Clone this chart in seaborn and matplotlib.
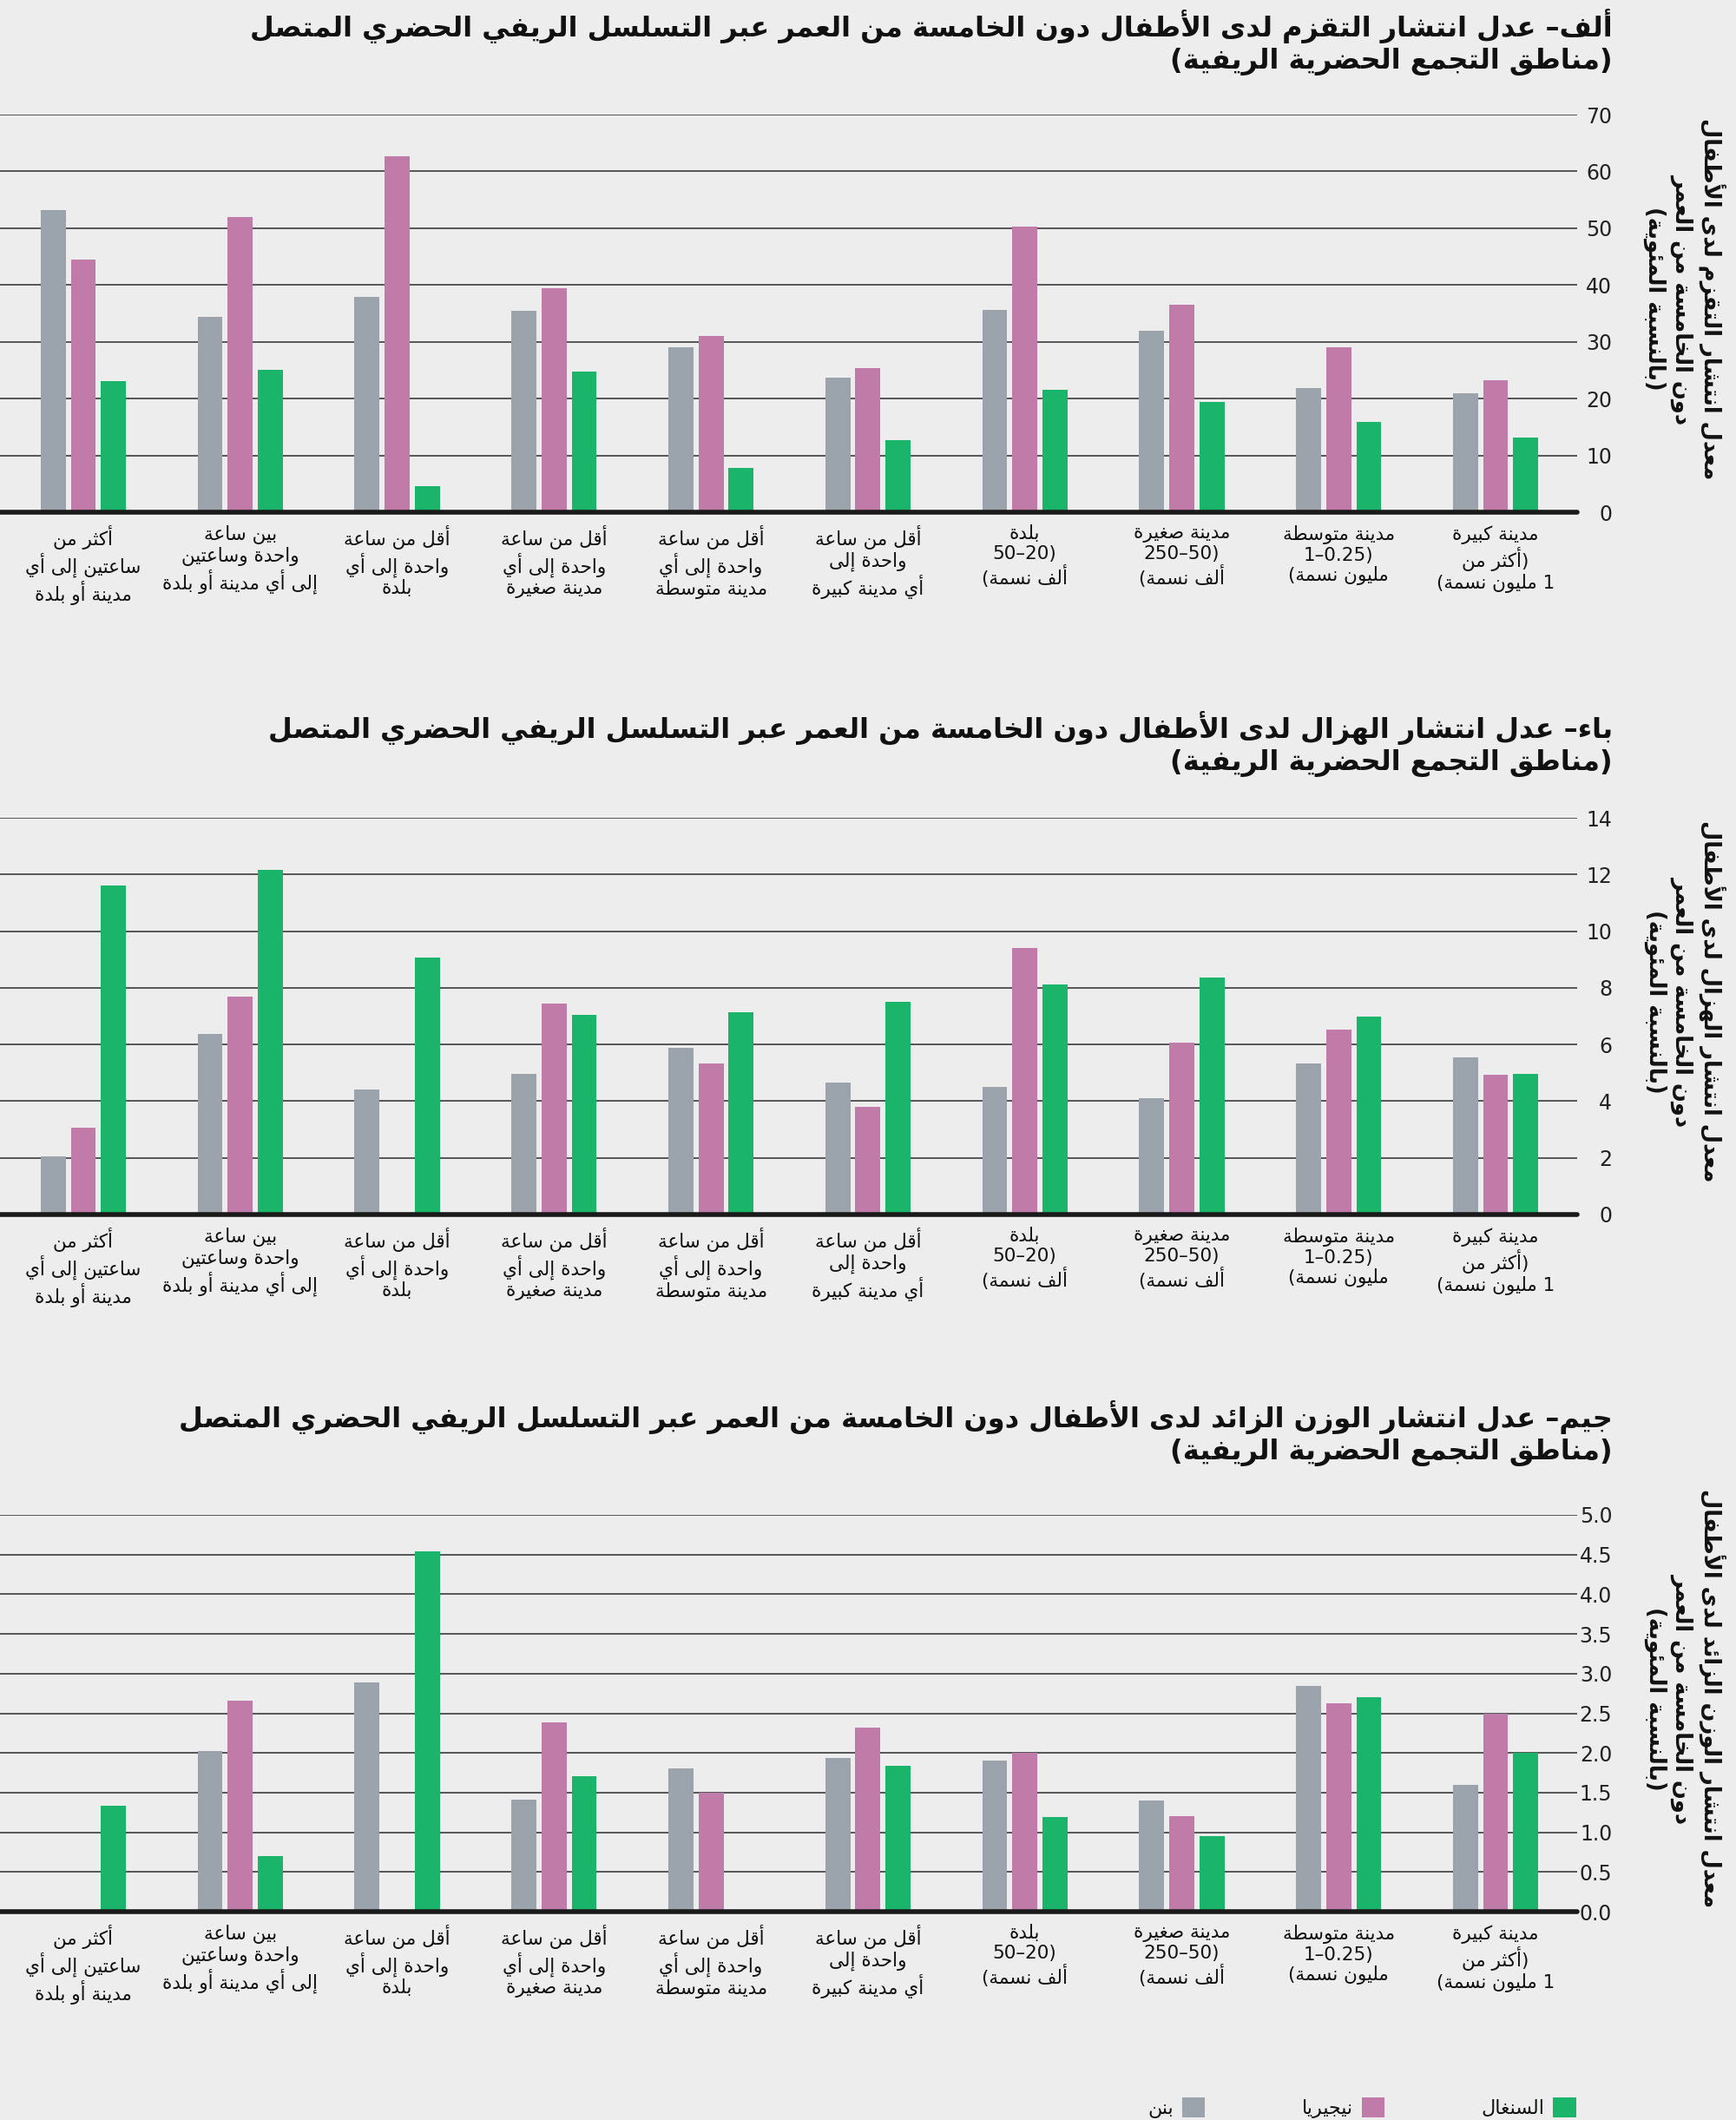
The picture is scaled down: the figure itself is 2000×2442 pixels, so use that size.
import re
import numpy as np
import pandas as pd
import matplotlib
matplotlib.use("Agg")
import matplotlib.pyplot as plt
import seaborn as sns

# ---------------------------------------------------------------- data
categories = [
    "أكثر من\nساعتين إلى أي\nمدينة أو بلدة",
    "بين ساعة\nواحدة وساعتين\nإلى أي مدينة أو بلدة",
    "أقل من ساعة\nواحدة إلى أي\nبلدة",
    "أقل من ساعة\nواحدة إلى أي\nمدينة صغيرة",
    "أقل من ساعة\nواحدة إلى أي\nمدينة متوسطة",
    "أقل من ساعة\nواحدة إلى\nأي مدينة كبيرة",
    "بلدة\n(20–50\nألف نسمة)",
    "مدينة صغيرة\n(50–250\nألف نسمة)",
    "مدينة متوسطة\n(0.25–1\nمليون نسمة)",
    "مدينة كبيرة\n(أكثر من\n1 مليون نسمة)",
]
countries = ["بنن", "نيجيريا", "السنغال"]
country_colors = ["#9BA3AC", "#C07BA8", "#1BB46B"]

stunting_benin   = [53.2, 34.4, 37.9, 35.5, 29.1, 23.7, 35.6, 32.0, 21.8, 21.0]
stunting_nigeria = [44.4, 51.9, 62.7, 39.5, 31.0, 25.3, 50.3, 36.6, 29.1, 23.2]
stunting_senegal = [23.1, 25.0, 4.6, 24.7, 7.8, 12.7, 21.5, 19.4, 15.9, 13.2]

wasting_benin    = [2.04, 6.38, 4.41, 4.95, 5.88, 4.67, 4.51, 4.11, 5.33, 5.53]
wasting_nigeria  = [3.05, 7.69, np.nan, 7.45, 5.33, 3.80, 9.42, 6.08, 6.54, 4.92]
wasting_senegal  = [11.6, 12.16, 9.07, 7.05, 7.15, 7.50, 8.11, 8.36, 7.00, 4.96]

overweight_benin   = [np.nan, 2.02, 2.89, 1.41, 1.81, 1.94, 1.90, 1.40, 2.84, 1.60]
overweight_nigeria = [np.nan, 2.66, np.nan, 2.38, 1.50, 2.32, 2.00, 1.20, 2.63, 2.49]
overweight_senegal = [1.33, 0.70, 4.54, 1.71, np.nan, 1.84, 1.19, 0.95, 2.70, 2.00]

titles = [
    "ألف– عدل انتشار التقزم لدى الأطفال دون الخامسة من العمر عبر التسلسل الريفي الحضري المتصل\n(مناطق التجمع الحضرية الريفية)",
    "باء– عدل انتشار الهزال لدى الأطفال دون الخامسة من العمر عبر التسلسل الريفي الحضري المتصل\n(مناطق التجمع الحضرية الريفية)",
    "جيم– عدل انتشار الوزن الزائد لدى الأطفال دون الخامسة من العمر عبر التسلسل الريفي الحضري المتصل\n(مناطق التجمع الحضرية الريفية)",
]
ylabels = [
    "معدل انتشار التقزم لدى الأطفال\nدون الخامسة من العمر\n(بالنسبة المئوية)",
    "معدل انتشار الهزال لدى الأطفال\nدون الخامسة من العمر\n(بالنسبة المئوية)",
    "معدل انتشار الوزن الزائد لدى الأطفال\nدون الخامسة من العمر\n(بالنسبة المئوية)",
]
yticks_a = [0, 10, 20, 30, 40, 50, 60, 70]
yticks_b = [0, 2, 4, 6, 8, 10, 12, 14]
yticks_c = [0, 0.5, 1.0, 1.5, 2.0, 2.5, 3.0, 3.5, 4.0, 4.5, 5.0]

# ------------------------------------------------- arabic shaping + bidi
FORMS = {
    '\u0621': ('\uFE80', None, None, None),
    '\u0622': ('\uFE81', '\uFE82', None, None),
    '\u0623': ('\uFE83', '\uFE84', None, None),
    '\u0624': ('\uFE85', '\uFE86', None, None),
    '\u0625': ('\uFE87', '\uFE88', None, None),
    '\u0626': ('\uFE89', '\uFE8A', '\uFE8B', '\uFE8C'),
    '\u0627': ('\uFE8D', '\uFE8E', None, None),
    '\u0628': ('\uFE8F', '\uFE90', '\uFE91', '\uFE92'),
    '\u0629': ('\uFE93', '\uFE94', None, None),
    '\u062A': ('\uFE95', '\uFE96', '\uFE97', '\uFE98'),
    '\u062B': ('\uFE99', '\uFE9A', '\uFE9B', '\uFE9C'),
    '\u062C': ('\uFE9D', '\uFE9E', '\uFE9F', '\uFEA0'),
    '\u062D': ('\uFEA1', '\uFEA2', '\uFEA3', '\uFEA4'),
    '\u062E': ('\uFEA5', '\uFEA6', '\uFEA7', '\uFEA8'),
    '\u062F': ('\uFEA9', '\uFEAA', None, None),
    '\u0630': ('\uFEAB', '\uFEAC', None, None),
    '\u0631': ('\uFEAD', '\uFEAE', None, None),
    '\u0632': ('\uFEAF', '\uFEB0', None, None),
    '\u0633': ('\uFEB1', '\uFEB2', '\uFEB3', '\uFEB4'),
    '\u0634': ('\uFEB5', '\uFEB6', '\uFEB7', '\uFEB8'),
    '\u0635': ('\uFEB9', '\uFEBA', '\uFEBB', '\uFEBC'),
    '\u0636': ('\uFEBD', '\uFEBE', '\uFEBF', '\uFEC0'),
    '\u0637': ('\uFEC1', '\uFEC2', '\uFEC3', '\uFEC4'),
    '\u0638': ('\uFEC5', '\uFEC6', '\uFEC7', '\uFEC8'),
    '\u0639': ('\uFEC9', '\uFECA', '\uFECB', '\uFECC'),
    '\u063A': ('\uFECD', '\uFECE', '\uFECF', '\uFED0'),
    '\u0641': ('\uFED1', '\uFED2', '\uFED3', '\uFED4'),
    '\u0642': ('\uFED5', '\uFED6', '\uFED7', '\uFED8'),
    '\u0643': ('\uFED9', '\uFEDA', '\uFEDB', '\uFEDC'),
    '\u0644': ('\uFEDD', '\uFEDE', '\uFEDF', '\uFEE0'),
    '\u0645': ('\uFEE1', '\uFEE2', '\uFEE3', '\uFEE4'),
    '\u0646': ('\uFEE5', '\uFEE6', '\uFEE7', '\uFEE8'),
    '\u0647': ('\uFEE9', '\uFEEA', '\uFEEB', '\uFEEC'),
    '\u0648': ('\uFEED', '\uFEEE', None, None),
    '\u0649': ('\uFEEF', '\uFEF0', None, None),
    '\u064A': ('\uFEF1', '\uFEF2', '\uFEF3', '\uFEF4'),
}
LAM_ALEF = {'\u0622': ('\uFEF5', '\uFEF6'), '\u0623': ('\uFEF7', '\uFEF8'),
            '\u0625': ('\uFEF9', '\uFEFA'), '\u0627': ('\uFEFB', '\uFEFC')}
MIRROR = {'(': ')', ')': '('}


def _dual(c):
    f = FORMS.get(c)
    return f is not None and f[2] is not None


def _joins(c):
    return c in FORMS and c != '\u0621'


def shape(s):
    res, i, n = [], 0, len(s)
    while i < n:
        c = s[i]
        if c not in FORMS:
            res.append(c)
            i += 1
            continue
        jp = i > 0 and _dual(s[i - 1])
        if c == '\u0644' and i + 1 < n and s[i + 1] in LAM_ALEF:
            lig = LAM_ALEF[s[i + 1]]
            res.append(lig[1] if jp else lig[0])
            i += 2
            continue
        jn = _dual(c) and i + 1 < n and _joins(s[i + 1])
        f = FORMS[c]
        res.append(f[3] if (jp and jn) else f[1] if jp else f[2] if jn else f[0])
        i += 1
    return ''.join(res)


def vis_line(s):
    s = shape(s)
    runs = re.findall(r'[0-9A-Za-z.]+|[^0-9A-Za-z.]+', s)
    out = []
    for r in reversed(runs):
        if re.match(r'[0-9A-Za-z.]', r):
            out.append(r)
        else:
            out.append(''.join(MIRROR.get(ch, ch) for ch in reversed(r)))
    return ''.join(out)


def ar(s):
    return '\n'.join(vis_line(line) for line in s.split('\n'))


# ---------------------------------------------------------------- style
BG = '#EDEDED'
sns.set_theme(style='white')
plt.rcParams['font.family'] = ['DejaVu Sans']
plt.rcParams['text.color'] = '#111111'

W, H = 2000, 2442
fig = plt.figure(figsize=(W / 100, H / 100), dpi=100, facecolor=BG)

panels = [
    dict(vals=(stunting_benin, stunting_nigeria, stunting_senegal), ticks=yticks_a,
         fmt='{:.0f}', top=132, bottom=590, title_y=10),
    dict(vals=(wasting_benin, wasting_nigeria, wasting_senegal), ticks=yticks_b,
         fmt='{:.0f}', top=942, bottom=1399, title_y=819),
    dict(vals=(overweight_benin, overweight_nigeria, overweight_senegal), ticks=yticks_c,
         fmt='{:.1f}', top=1745, bottom=2202, title_y=1613),
]

AX_RIGHT = 1817
legend_handles = None
for k, p in enumerate(panels):
    rows = []
    for ci, cname in enumerate(countries):
        for cat, v in zip(categories, p['vals'][ci]):
            if not np.isnan(v):
                rows.append((cat, cname, v))
    df = pd.DataFrame(rows, columns=['cat', 'country', 'value'])

    ax = fig.add_axes([0, 1 - p['bottom'] / H, AX_RIGHT / W, (p['bottom'] - p['top']) / H])
    ax.set_facecolor(BG)
    sns.barplot(data=df, x='cat', y='value', hue='country', order=categories,
                hue_order=countries, palette=country_colors, width=0.576, gap=0.17,
                errorbar=None, saturation=1, linewidth=0, ax=ax, legend=(k == 0))
    if k == 0:
        legend_handles, _ = ax.get_legend_handles_labels()
        ax.get_legend().remove()

    ax.set_xlim(-0.531, 9.52)
    ax.set_ylim(0, p['ticks'][-1])
    ax.set_xlabel('')
    ax.set_ylabel('')
    for s in ax.spines.values():
        s.set_visible(False)
    ax.set_axisbelow(True)
    ax.grid(axis='y', color='#4A4A4A', lw=1.3)
    ax.grid(axis='x', visible=False)
    ax.axhline(0, color='#1A1A1A', lw=4, zorder=5, clip_on=False)

    ax.yaxis.tick_right()
    ax.set_yticks(p['ticks'])
    ax.set_yticklabels([p['fmt'].format(t) for t in p['ticks']], ha='right')
    ax.tick_params(axis='y', length=0, pad=29, labelsize=17, labelcolor='#222222')

    ax.set_xticks(range(len(categories)))
    ax.set_xticklabels([ar(c) for c in categories], fontsize=15.5, linespacing=1.15)
    ax.tick_params(axis='x', length=0, pad=11, labelcolor='#111111')

    # title (right aligned, bold)
    fig.text(1858 / W, 1 - p['title_y'] / H, ar(titles[k]), ha='right', va='top',
             multialignment='right', fontsize=23, fontweight='bold', linespacing=1.22)
    # y label at right, rotated
    yc = (p['top'] + p['bottom']) / 2 - 17
    fig.text(1941 / W, 1 - yc / H, ar(ylabels[k]), rotation=270, ha='center', va='center',
             multialignment='center', fontsize=18.5, fontweight='bold', linespacing=1.28)

fig.legend(legend_handles, [ar(c) for c in countries], loc='lower right',
           bbox_to_anchor=(1816 / W, 2 / H), ncol=3, frameon=False, markerfirst=False,
           fontsize=16, handlelength=1.2, handleheight=1.2, handletextpad=0.45,
           columnspacing=5.0, borderpad=0, borderaxespad=0)

fig.savefig('out.png', dpi=100, facecolor=BG)
